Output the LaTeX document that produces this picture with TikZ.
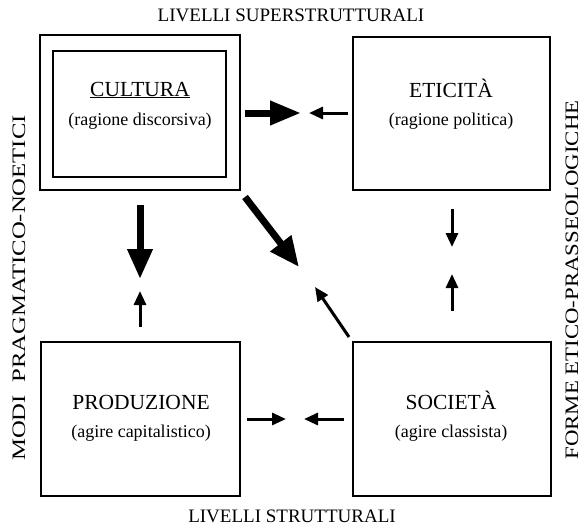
\documentclass[tikz,border=0pt]{standalone}
\usepackage{fontspec}
\setmainfont{Liberation Serif}
\usetikzlibrary{arrows.meta}
\begin{document}
\begin{tikzpicture}[x=1pt,y=-1pt,
  box/.style={draw, line width=1.8pt, inner sep=0pt},
  title/.style={font=\fontsize{21.5}{24}\selectfont, inner sep=0pt},
  sub/.style={font=\fontsize{18}{21}\selectfont, inner sep=0pt},
  lbl/.style={font=\fontsize{19}{22}\selectfont, inner sep=0pt},
  bigarrow/.style={line width=7pt, -{Triangle[length=31pt,width=23pt]}},
  smallarrow/.style={line width=3pt, -{Triangle[length=14pt,width=12pt]}},
]
\useasboundingbox (0,0) rectangle (584,530);

% the four boxes (culture has a double frame)
\node[box, minimum width=200pt, minimum height=155pt] (cultout) at (140,112.5) {};
\node[box, minimum width=173pt, minimum height=126pt] (cultin) at (139.5,114) {};
\node[box, minimum width=197pt, minimum height=153pt] (etic) at (451.5,113.5) {};
\node[box, minimum width=199pt, minimum height=154pt] (prod) at (140.5,419) {};
\node[box, minimum width=198pt, minimum height=154pt] (soc) at (452,419) {};

% box texts
\node[title] (cultT) at (140,90) {\underline{CULTURA}};
\node[sub] (cultS) at (140,121) {(ragione discorsiva)};
\node[title] (eticT) at (451,88) {ETICITÀ};
\node[sub] (eticS) at (451,121) {(ragione politica)};
\node[title] (prodT) at (141,402) {PRODUZIONE};
\node[sub] (prodS) at (141,433) {(agire capitalistico)};
\node[title] (socT) at (451,400) {SOCIETÀ};
\node[sub] (socS) at (451,433) {(agire classista)};

% outer labels
\node[lbl] (top) at (291,15) {LIVELLI SUPERSTRUTTURALI};
\node[lbl] (bottom) at (292,516) {LIVELLI STRUTTURALI};
\node[lbl, rotate=90] (left) at (19,288) {\scalebox{1.3}[1]{MODI\hspace{0.5em}PRAGMATICO-NOETICI}};
\node[lbl, rotate=90] (right) at (572,280) {\scalebox{1.2}[1]{FORME ETICO-PRASSEOLOGICHE}};

% arrow end points
\coordinate (a1s) at (245,113);  \coordinate (a1e) at (301,113);
\coordinate (a2s) at (348,113);  \coordinate (a2e) at (309,113);
\coordinate (a3s) at (245,197);  \coordinate (a3e) at (299,267);
\coordinate (a4s) at (349,337);  \coordinate (a4e) at (315,287);
\coordinate (a5s) at (140,205);  \coordinate (a5e) at (140,279);
\coordinate (a6s) at (140,327);  \coordinate (a6e) at (140,291);
\coordinate (a7s) at (452,209);  \coordinate (a7e) at (452,247);
\coordinate (a8s) at (452,311);  \coordinate (a8e) at (452,274);
\coordinate (a9s) at (247,419);  \coordinate (a9e) at (286,419);
\coordinate (a10s) at (344,419); \coordinate (a10e) at (304,419);

% arrows
\draw[bigarrow] (a1s) -- (a1e);
\draw[smallarrow] (a2s) -- (a2e);
\draw[bigarrow, -{Triangle[length=30pt,width=25pt]}] (a3s) -- (a3e);
\draw[smallarrow] (a4s) -- (a4e);
\draw[bigarrow, -{Triangle[length=30pt,width=24pt]}] (a5s) -- (a5e);
\draw[smallarrow] (a6s) -- (a6e);
\draw[smallarrow] (a7s) -- (a7e);
\draw[smallarrow] (a8s) -- (a8e);
\draw[smallarrow] (a9s) -- (a9e);
\draw[smallarrow] (a10s) -- (a10e);
\end{tikzpicture}
\end{document}
